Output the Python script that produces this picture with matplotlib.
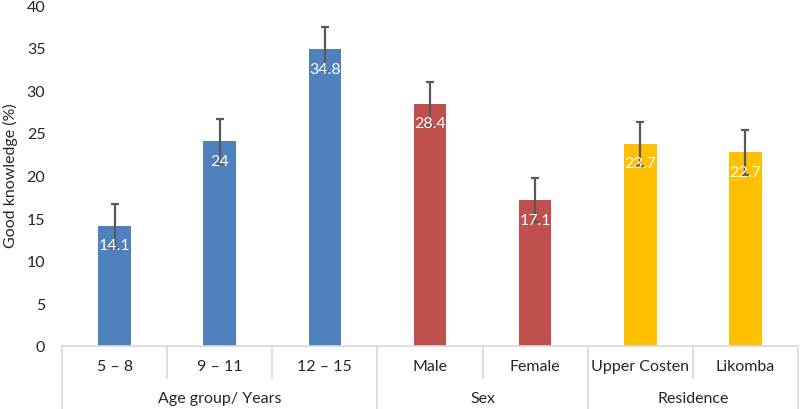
import matplotlib
matplotlib.use("Agg")
import matplotlib.pyplot as plt
from matplotlib.lines import Line2D

categories = ["5 \u2013 8", "9 \u2013 11", "12 \u2013 15", "Male", "Female", "Upper Costen", "Likomba"]
values = [14.1, 24, 34.8, 28.4, 17.1, 23.7, 22.7]
value_labels = ["14.1", "24", "34.8", "28.4", "17.1", "23.7", "22.7"]
errors = [2.6, 2.6, 2.6, 2.6, 2.6, 2.6, 2.6]
groups = ["Age group/ Years", "Sex", "Residence"]
group_sizes = [3, 2, 2]
group_colors = ["#4F81BD", "#C0504D", "#FFC000"]
yticks = [0, 5, 10, 15, 20, 25, 30, 35, 40]

plt.rcParams['font.family'] = ['Lato', 'DejaVu Sans']
FS = 11.5
W, H = 800, 410
fig = plt.figure(figsize=(8, 4.1), dpi=100)
x0, x1 = 62, 798
yb, yt = 347, 6
ax = fig.add_axes([x0 / W, 1 - yb / H, (x1 - x0) / W, (yb - yt) / H])

colors = []
for c, n in zip(group_colors, group_sizes):
    colors += [c] * n
xs = list(range(len(categories)))
ax.bar(xs, values, width=0.31, color=colors, zorder=2)
ax.errorbar(xs, values, yerr=errors, fmt='none', ecolor='#595959', elinewidth=1.6,
            capsize=3.2, capthick=1.6, zorder=3)
for x, v, lab in zip(xs, values, value_labels):
    ax.annotate(lab, (x, v), xytext=(0, -14), textcoords='offset points',
                ha='center', va='center', color='white', fontsize=FS, zorder=4)

ax.set_xlim(-0.5, len(categories) - 0.5)
ax.set_ylim(0, 40)
ax.set_yticks(yticks)
ax.set_yticklabels([str(t) for t in yticks], fontsize=FS, color='#262626')
ax.tick_params(axis='y', length=0, pad=12)
ax.set_xticks([])
for s in ax.spines.values():
    s.set_visible(False)

lc = '#D9D9D9'
cw = (x1 - x0) / len(categories)
def fx(px):
    return px / W
def fy(py):
    return 1 - py / H

fig.text(fx(10), fy(176), "Good knowledge (%)", rotation=90, ha='center', va='center',
         fontsize=FS, color='#262626')

# horizontal baseline
fig.add_artist(Line2D([fx(x0), fx(x1)], [fy(yb), fy(yb)], color=lc, lw=1.2))
for i, cat in enumerate(categories):
    cx = x0 + (i + 0.5) * cw
    fig.text(fx(cx), fy(367), cat, ha='center', va='center', fontsize=FS, color='#262626')
bounds = [0]
for n in group_sizes:
    bounds.append(bounds[-1] + n)
for i in range(len(categories) + 1):
    px = x0 + i * cw
    if i in bounds:
        fig.add_artist(Line2D([fx(px), fx(px)], [fy(yb), fy(410)], color=lc, lw=1.2))
    else:
        fig.add_artist(Line2D([fx(px), fx(px)], [fy(yb), fy(379)], color=lc, lw=1.2))
for g, a, b in zip(groups, bounds[:-1], bounds[1:]):
    cx = x0 + (a + b) / 2 * cw
    fig.text(fx(cx), fy(399), g, ha='center', va='center', fontsize=FS, color='#262626')

fig.savefig("out.png", dpi=100)
